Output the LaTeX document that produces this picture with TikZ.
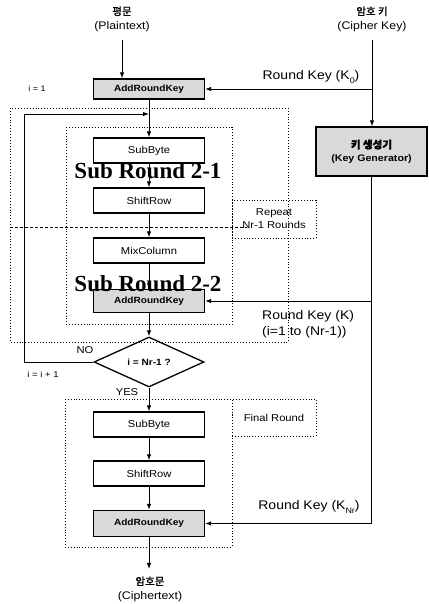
\documentclass[tikz,border=0pt]{standalone}
\usepackage{fontspec}
\setmainfont{Liberation Sans}[FakeStretch=1.12]
\newfontfamily\kofont{Noto Sans CJK KR}[FakeBold=1.5]
\newfontfamily\subfont{Liberation Serif}
\usetikzlibrary{arrows.meta,positioning,shapes.geometric}
\newcommand{\KoLine}[1]{{\kofont\fontsize{10.5}{11}\selectfont #1}}
\newcommand{\Sub}[1]{\raisebox{-.55ex}{\fontsize{8}{8}\selectfont #1}}
\newcommand{\RoundStep}[4]{%
  \node[stepbox,#4] (#1) at (149,#2) {#3};
}

\begin{document}
\begin{tikzpicture}[x=1pt,y=-1pt,font=\fontsize{10}{12}\selectfont,
    stepbox/.style={draw, line width=1.3pt, minimum width=111pt, minimum height=25pt, inner sep=0pt},
    keystep/.style={fill=gray!30, font=\fontsize{9}{11}\selectfont\bfseries},
    frame/.style={draw, dotted, line width=0.9pt},
    flow/.style={-{Latex[length=6pt,width=4.5pt]}, line width=0.9pt},
    subtitle/.style={font=\subfont\bfseries\fontsize{23}{23}\selectfont, inner sep=0pt},
    keylabel/.style={font=\fontsize{12.5}{16}\selectfont, inner sep=0pt}]
    \useasboundingbox (0,0) rectangle (428,604);

    % inputs
    \node[align=center, font=\fontsize{11}{14}\selectfont] (plain) at (122,19) {\KoLine{평문}\\(Plaintext)};
    \node[align=center, font=\fontsize{11}{14}\selectfont] (ckey) at (372,19) {\KoLine{암호 키}\\(Cipher Key)};

    % frames
    \draw[frame] (10,108) rectangle (288,342);
    \draw[frame] (66,127) rectangle (232,324);
    \draw[frame] (65,399) rectangle (232,547);
    \node[frame, minimum width=84pt, minimum height=38pt, align=center, font=\fontsize{10}{13}\selectfont] (repeat) at (274,219) {Repeat\\Nr-1 Rounds};
    \node[frame, minimum width=84pt, minimum height=37pt] (final) at (274,417.5) {Final Round};
    \draw[dashed, dash pattern=on 3pt off 2pt, line width=0.8pt] (10,227) -- (247,227);

    % rounds
    \RoundStep{ark0}{89}{AddRoundKey}{keystep, minimum height=20pt}
    \RoundStep{sb1}{150.5}{SubByte}{}
    \RoundStep{sr1}{200.5}{ShiftRow}{}
    \RoundStep{mc}{250.5}{MixColumn}{}
    \RoundStep{ark1}{301}{AddRoundKey}{keystep, minimum height=23pt}
    \node[draw, diamond, aspect=2.2, line width=1.3pt, minimum width=110pt, minimum height=50pt, inner sep=0pt,
      font=\fontsize{9}{11}\selectfont\bfseries] (chk) at (149,362) {i = Nr-1 ?};
    \RoundStep{sb2}{424.5}{SubByte}{}
    \RoundStep{sr2}{473.5}{ShiftRow}{}
    \RoundStep{ark2}{523.5}{AddRoundKey}{keystep, minimum height=26pt}
    \node[align=center, font=\fontsize{11}{14}\selectfont] (ctext) at (150,589) {\KoLine{암호문}\\(Ciphertext)};

    \node[subtitle] (sub1) at (148,171) {Sub Round 2-1};
    \node[subtitle] (sub2) at (148,283.5) {Sub Round 2-2};

    % key schedule
    \node[draw, line width=1.3pt, fill=gray!30, minimum width=111pt, minimum height=49pt, align=center,
      font=\fontsize{9.5}{13}\selectfont\bfseries] (kgen) at (371.5,151.5) {\KoLine{키 생성기}\\(Key Generator)};

    \draw[flow] ([yshift=-5pt]plain.south) -- (plain.south |- ark0.north);
    \draw[flow] ([yshift=-5pt]ckey.south) -- (ckey.south |- kgen.north);
    \draw[flow] (ckey.south |- ark0.east) -- (ark0.east);
    \draw[flow] (kgen.south) |- (ark2.east);
    \draw[flow] (kgen.south |- ark1.east) -- (ark1.east);

    \draw[flow] (ark0) -- (sb1);
    \draw[flow] (sb1) -- (sr1);
    \draw[flow] (sr1) -- (mc);
    \draw[flow] (mc) -- (ark1);
    \draw[flow] (ark1) -- (chk);
    \draw[flow] (chk) -- (sb2);
    \draw[flow] (sb2) -- (sr2);
    \draw[flow] (sr2) -- (ark2);
    \draw[flow, shorten >=4pt] (ark2) -- (ark2.south |- ctext.north);
    \coordinate (loop) at (24,114);
    \draw[flow] (chk.west) -| (loop) -- (loop -| sb1.north);

    % labels
    \node[keylabel] (rk0) at (311,77) {Round Key (K\Sub{0})};
    \node[keylabel, align=left, anchor=west] (rki) at (262,324) {Round Key (K)\\(i=1 to (Nr-1))};
    \node[keylabel] (rkn) at (309,507) {Round Key (K\Sub{Nr})};
    \node[font=\fontsize{8}{10}\selectfont] (init) at (37,89) {i = 1};
    \node (no) at (85,350) {NO};
    \node[font=\fontsize{8.5}{10}\selectfont] (incr) at (43,374) {i = i + 1};
    \node (yes) at (127,392) {YES};
\end{tikzpicture}
\end{document}
